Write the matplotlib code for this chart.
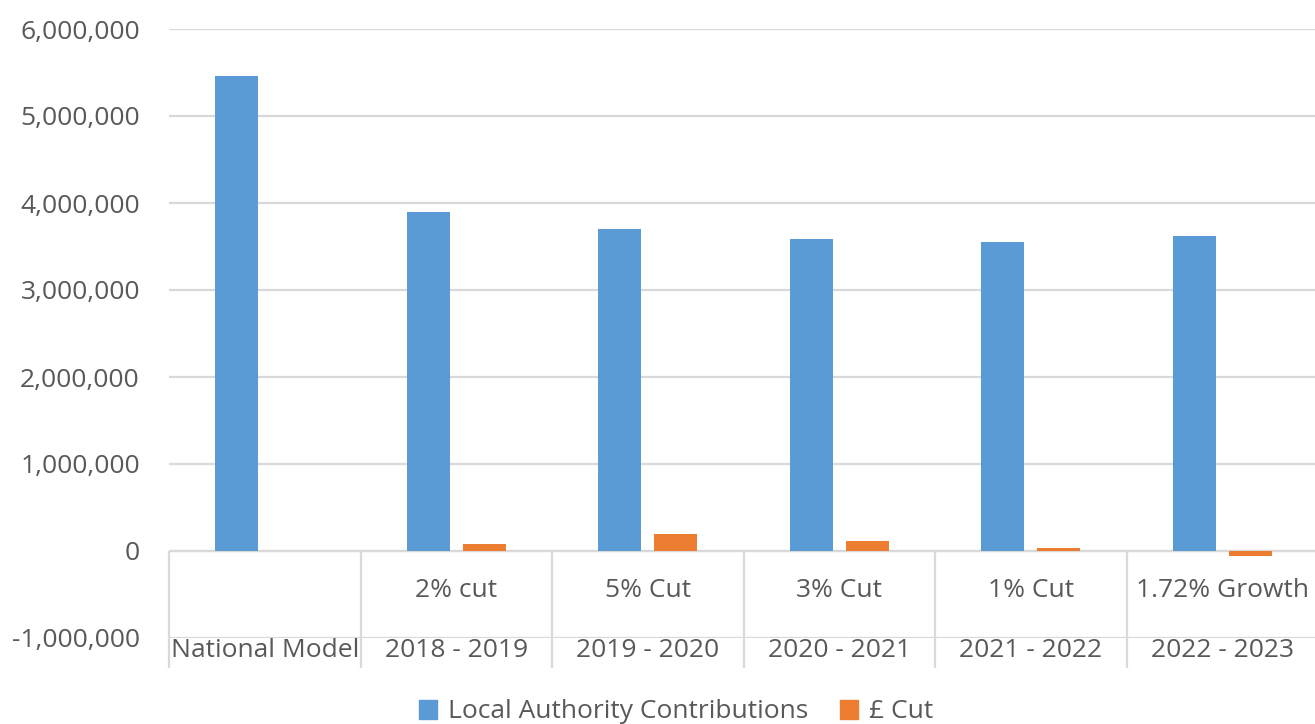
import matplotlib
matplotlib.use("Agg")
import matplotlib.pyplot as plt
from matplotlib.ticker import FuncFormatter
from matplotlib.patches import Patch

# -----------------------------------------------------
# Data
# -----------------------------------------------------
years = ["National Model", "2018 - 2019", "2019 - 2020", "2020 - 2021", "2021 - 2022", "2022 - 2023"]
changes = ["", "2% cut", "5% Cut", "3% Cut", "1% Cut", "1.72% Growth"]
contributions = [5460000, 3895000, 3700000, 3590000, 3555000, 3616000]
pound_cut = [0, 78000, 195000, 111000, 36000, -61000]
y_ticks = [-1000000, 0, 1000000, 2000000, 3000000, 4000000, 5000000, 6000000]

BLUE = "#5B9BD5"
ORANGE = "#ED7D31"
TEXT = "#595959"
GRID = "#D9D9D9"
FS = 19

plt.rcParams["font.family"] = ["Open Sans", "DejaVu Sans"]

fig = plt.figure(figsize=(13.15, 7.24), dpi=100)
ax = fig.add_axes([169 / 1315, 1 - 638 / 724, 1149 / 1315, 609 / 724])

x = list(range(len(years)))
w = 0.225
off = 0.146
ax.bar([i - off for i in x], contributions, width=w, color=BLUE, zorder=3)
ax.bar([i + off for i in x[1:]], pound_cut[1:], width=w, color=ORANGE, zorder=3)

# -- axes and grid --
ax.set_xlim(-0.5, len(years) - 0.5)
ax.set_ylim(y_ticks[0], y_ticks[-1])
ax.set_yticks(y_ticks)
ax.yaxis.set_major_formatter(FuncFormatter(lambda v, p: f"{int(v):,}"))
ax.tick_params(axis="y", length=0, pad=21, labelsize=FS, labelcolor=TEXT)
ax.set_xticks([])
ax.grid(axis="y", color=GRID, linewidth=1.6, zorder=0)
ax.axhline(0, color=GRID, linewidth=1.6, zorder=2)
for s in ax.spines.values():
    s.set_visible(False)

# -- multi-level category labels hanging below zero --
ax.vlines([i - 0.5 for i in range(len(years) + 1)], 0, -1340000,
          color=GRID, linewidth=1.6, clip_on=False, zorder=2)
for i in x:
    if changes[i]:
        ax.text(i, -450000, changes[i], ha="center", va="center",
                fontsize=FS, color=TEXT)
    ax.text(i, -1140000, years[i], ha="center", va="center",
            fontsize=FS, color=TEXT, clip_on=False)

# -- legend --
handles = [Patch(color=BLUE), Patch(color=ORANGE)]
fig.legend(handles, ["Local Authority Contributions", "£ Cut"],
           loc="center", bbox_to_anchor=(676 / 1315, 1 - 712 / 724),
           ncol=2, frameon=False, fontsize=FS, labelcolor=TEXT,
           handlelength=0.7, handleheight=0.7, handletextpad=0.4,
           columnspacing=1.2)

fig.savefig("out.png", dpi=100)
